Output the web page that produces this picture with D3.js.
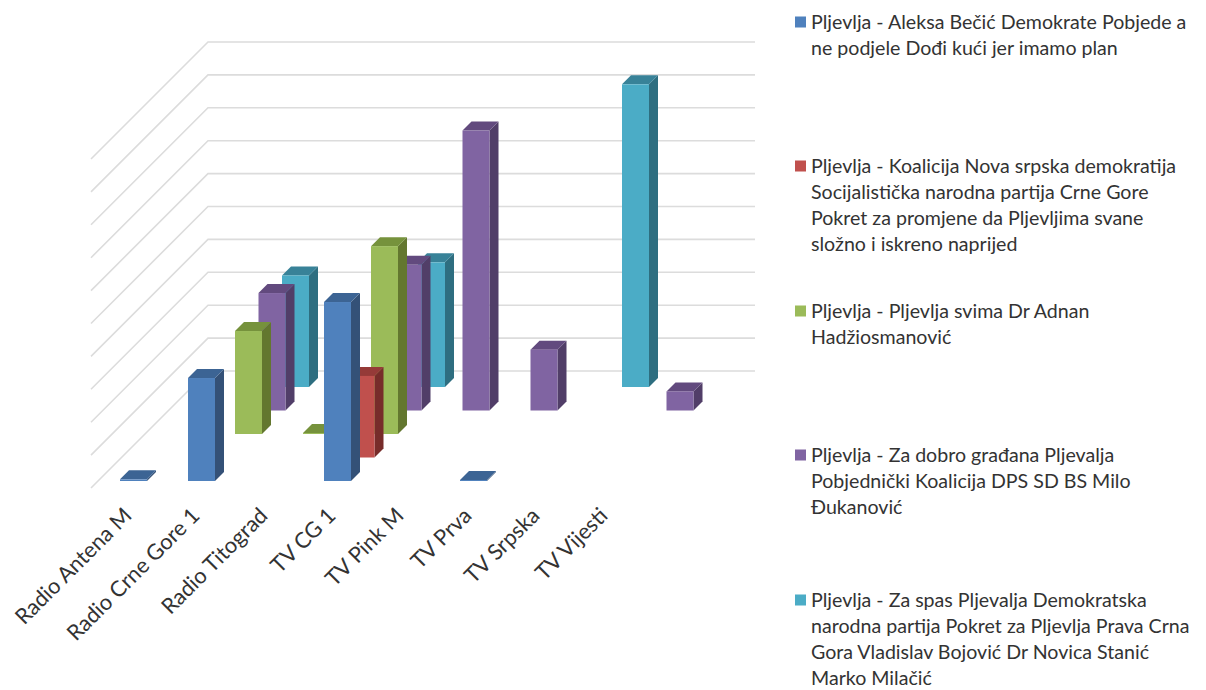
<!DOCTYPE html>
<html><head><meta charset="utf-8">
<script src="https://cdn.jsdelivr.net/npm/d3@7/dist/d3.min.js"></script>
<style>html,body{margin:0;background:#fff}svg{display:block}text{font-family:Lato,"Open Sans",sans-serif;fill:#333}</style>
</head><body><svg id="c" width="1206" height="690"></svg>
<script>
const categories = ["Radio Antena M","Radio Crne Gore 1","Radio Titograd","TV CG 1","TV Pink M","TV Prva","TV Srpska","TV Vijesti"];
const gridTicks = [0,1,2,3,4,5,6,7,8,9,10];
const blueValues   = [0.05,3.13,null,5.44,null,0.03,null,null];
const redValues    = [null,null,null,2.48,null,null,null,null];
const greenValues  = [null,3.13,0.03,5.71,null,null,null,null];
const purpleValues = [null,3.57,null,4.43,8.51,1.85,null,0.58];
const tealValues   = [null,3.39,null,3.79,null,null,9.2,null];
const seriesLabels = [
  ["Pljevlja - Aleksa Bečić Demokrate Pobjede a","ne podjele Dođi kući jer imamo plan"],
  ["Pljevlja - Koalicija Nova srpska demokratija","Socijalistička narodna partija Crne Gore","Pokret za promjene da Pljevljima svane","složno i iskreno naprijed"],
  ["Pljevlja - Pljevlja svima Dr Adnan","Hadžiosmanović"],
  ["Pljevlja - Za dobro građana Pljevalja","Pobjednički Koalicija DPS SD BS Milo","Đukanović"],
  ["Pljevlja - Za spas Pljevalja Demokratska","narodna partija Pokret za Pljevlja Prava Crna","Gora Vladislav Bojović Dr Novica Stanić","Marko Milačić"]
];
const seriesValues = [blueValues,redValues,greenValues,purpleValues,tealValues];
const faceColors = ["#4F81BD","#C0504D","#9BBB59","#8064A2","#4BACC6"];
const topColors  = ["#3C6494","#953A38","#76923C","#624A7E","#388298"];
const sideColors = ["#345177","#772C2A","#63772F","#513E68","#2E6E80"];
const legendY = [22,166,311,455,600];

const svg = d3.select("#c");
const backY = d3.scaleLinear().domain([0,10]).range([371,42]);
const cat = d3.scaleLinear().domain([0,7]).range([120,596]);
const row = d3.scaleLinear().domain([0,4]).range([0,94]);
const height = d3.scaleLinear().domain([0,10]).range([0,329]);
const barW = 27, depth = 9;
const wallDx = 117;

const grid = svg.append("g").attr("fill","none").attr("stroke","#dcdcdc").attr("stroke-width",1.6);
grid.selectAll("path").data(gridTicks).join("path")
  .attr("d", v => d3.line()([[91,backY(v)+wallDx],[208,backY(v)],[755,backY(v)]]));

const bars = svg.append("g");
// back row first so that the front rows cover it
d3.range(4,-1,-1).forEach(s => {
  const g = bars.append("g");
  seriesValues[s].forEach((v,i) => {
    if (v === null) return;
    const x = cat(i)+row(s), base = 481-row(s), top = base-height(v);
    g.append("path").attr("fill",sideColors[s]).attr("d",d3.line()([[x+barW,base],[x+barW+depth,base-depth],[x+barW+depth,top-depth],[x+barW,top]])+"Z");
    g.append("path").attr("fill",topColors[s]).attr("d",d3.line()([[x,top],[x+depth,top-depth],[x+barW+depth,top-depth],[x+barW,top]])+"Z");
    g.append("rect").attr("x",x).attr("y",top).attr("width",barW).attr("height",base-top).attr("fill",faceColors[s]);
  });
});

svg.append("g").selectAll("text").data(categories).join("text")
  .attr("text-anchor","end").attr("font-size",21.8)
  .attr("transform",(d,i)=>`translate(${cat(i)+13},${517}) rotate(-45)`)
  .text(d=>d);

const legend = svg.append("g");
seriesLabels.forEach((lines,s)=>{
  legend.append("rect").attr("x",795).attr("y",legendY[s]-5.5).attr("width",11).attr("height",11).attr("fill",faceColors[s]);
  lines.forEach((t,j)=>{
    legend.append("text").attr("x",811).attr("y",legendY[s]+6.5+j*26.2).attr("font-size",19.6).text(t);
  });
});
</script></body></html>
